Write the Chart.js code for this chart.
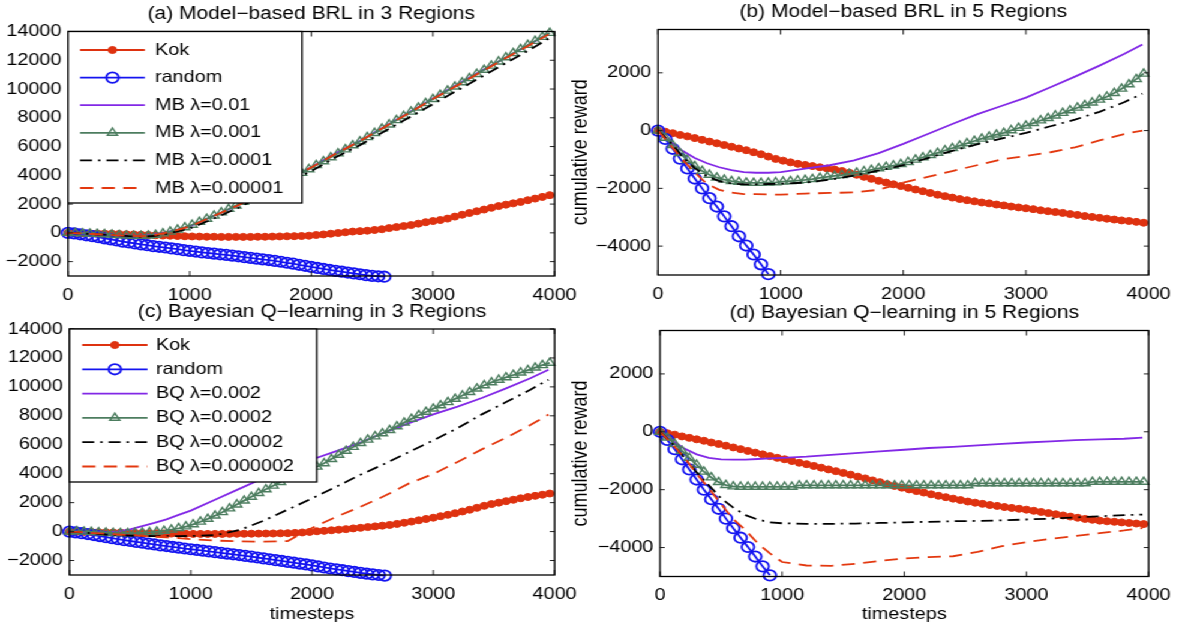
<!DOCTYPE html>
<html>
<head>
<meta charset="utf-8">
<title>Cumulative reward</title>
<script src="https://cdn.jsdelivr.net/npm/chart.js@4.4.0/dist/chart.umd.min.js"></script>
<style>
  html, body { margin: 0; padding: 0; background: #fff; }
  /* the original figure is stretched sideways, so the whole stage is too */
  #stage { position: absolute; left: 0; top: 0; width: 985px; height: 627px;
           transform: scaleX(1.2); transform-origin: 0 0; }
  #stage canvas { position: absolute; }
</style>
</head>
<body>
<div id="stage">
  <canvas id="panelA" width="490" height="312" style="left:0px;top:0px"></canvas>
  <canvas id="panelB" width="515" height="312" style="left:470px;top:0px"></canvas>
  <canvas id="panelC" width="490" height="327" style="left:0px;top:300px"></canvas>
  <canvas id="panelD" width="515" height="327" style="left:470px;top:300px"></canvas>
</div>
<script>
// ---- axis ticks ----
const X_TICKS = [0, 1000, 2000, 3000, 4000];
const Y_TICKS_3R = [-2000, 0, 2000, 4000, 6000, 8000, 10000, 12000, 14000];
const Y_TICKS_5R = [-4000, -2000, 0, 2000];

// ---- timesteps the series were sampled at ----
const T60 = [0, 60, 120, 180, 240, 300, 360, 420, 480, 540,
    600, 660, 720, 780, 840, 900, 960, 1020, 1080, 1140,
    1200, 1260, 1320, 1380, 1440, 1500, 1560, 1620, 1680, 1740,
    1800, 1860, 1920, 1980, 2040, 2100, 2160, 2220, 2280, 2340,
    2400, 2460, 2520, 2580, 2640, 2700, 2760, 2820, 2880, 2940,
    3000, 3060, 3120, 3180, 3240, 3300, 3360, 3420, 3480, 3540,
    3600, 3660, 3720, 3780, 3840, 3900, 3960];
const T50 = [0, 50, 100, 150, 200, 250, 300, 350, 400, 450,
    500, 550, 600, 650, 700, 750, 800, 850, 900, 950,
    1000, 1050, 1100, 1150, 1200, 1250, 1300, 1350, 1400, 1450,
    1500, 1550, 1600, 1650, 1700, 1750, 1800, 1850, 1900, 1950,
    2000, 2050, 2100, 2150, 2200, 2250, 2300, 2350, 2400, 2450,
    2500, 2550, 2600];
const TL = [0, 100, 200, 300, 400, 500, 600, 700, 800, 900, 1000, 1200, 1400,
    1600, 1800, 2000, 2200, 2400, 2600, 2800, 3000, 3200, 3400, 3600, 3800, 3950];

const LABELS_MB = ['Kok', 'random', 'MB λ=0.01', 'MB λ=0.001', 'MB λ=0.0001', 'MB λ=0.00001'];
const LABELS_BQ = ['Kok', 'random', 'BQ λ=0.002', 'BQ λ=0.0002', 'BQ λ=0.00002', 'BQ λ=0.000002'];

// ---- (a) Model-based BRL, 3 regions ----
const aKok = [0, -10, -20, -30, -40, -50, -60, -80, -100, -110,
    -130, -150, -170, -190, -200, -220, -240, -250, -260, -270,
    -270, -280, -280, -280, -280, -280, -270, -270, -260, -250,
    -240, -230, -220, -200, -150, -110, -60, -10, 40, 90,
    120, 150, 200, 250, 330, 400, 470, 540, 640, 740,
    820, 890, 990, 1130, 1260, 1380, 1500, 1620, 1740, 1860,
    1960, 2050, 2150, 2270, 2380, 2500, 2620];
const aRandom = [0, -40, -100, -170, -230, -300, -380, -450, -530, -610,
    -670, -730, -800, -860, -920, -970, -1020, -1080, -1130, -1200,
    -1250, -1300, -1360, -1400, -1440, -1490, -1530, -1580, -1630, -1690,
    -1740, -1790, -1840, -1890, -1950, -2010, -2080, -2140, -2220, -2290,
    -2370, -2440, -2510, -2580, -2640, -2700, -2760, -2820, -2880, -2940,
    -2990, -3020, -3050];
const aMB01 = [0, -30, -70, -100, -150, -190, -200, -130, 40, 230, 450, 1190, 1920,
    2830, 3700, 4560, 5540, 6390, 7380, 8350, 9350, 10320, 11270, 12200, 13130, 13850];
const aMB001 = [0, -20, -40, -60, -80, -100, -130, -160, -190, -210,
    -220, -200, -140, -40, 80, 220, 380, 560, 760, 970,
    1190, 1420, 1660, 1900, 2150, 2400, 2660, 2920, 3180, 3440,
    3690, 3930, 4160, 4420, 4700, 4970, 5250, 5520, 5800, 6080,
    6360, 6650, 6940, 7240, 7530, 7830, 8120, 8420, 8710, 9010,
    9300, 9590, 9880, 10170, 10460, 10750, 11040, 11330, 11620, 11910,
    12200, 12490, 12770, 13060, 13340, 13620, 13900];
const aMB0001 = [0, -40, -90, -130, -180, -230, -260, -220, -80, 100, 300, 1000, 1750,
    2600, 3450, 4300, 5250, 6100, 7050, 8000, 8950, 9900, 10850, 11800, 12750, 13500];
const aMB00001 = [0, -30, -80, -120, -170, -210, -230, -180, 0, 200, 430, 1180, 1920,
    2800, 3680, 4550, 5500, 6380, 7350, 8320, 9300, 10250, 11200, 12150, 13080, 13800];

// ---- (b) Model-based BRL, 5 regions ----
const bKok = [0, -40, -90, -150, -200, -260, -320, -380, -440, -500,
    -560, -620, -680, -750, -820, -900, -980, -1040, -1100, -1150,
    -1190, -1230, -1270, -1310, -1350, -1400, -1460, -1530, -1600, -1670,
    -1740, -1800, -1860, -1920, -1980, -2040, -2100, -2160, -2220, -2270,
    -2320, -2370, -2410, -2450, -2490, -2520, -2560, -2590, -2630, -2660,
    -2690, -2720, -2760, -2790, -2820, -2850, -2890, -2920, -2960, -2990,
    -3020, -3050, -3080, -3110, -3130, -3160, -3190];
const bRandom = [0, -290, -630, -970, -1310, -1660, -2000, -2340, -2630, -2970,
    -3310, -3660, -3980, -4290, -4630, -4970];
const bMB01 = [0, -380, -700, -950, -1130, -1270, -1370, -1440, -1460, -1460, -1440, -1320, -1200,
    -1030, -780, -460, -120, 230, 560, 850, 1140, 1500, 1870, 2250, 2650, 2980];
const bMB001 = [0, -250, -500, -780, -1020, -1230, -1400, -1530, -1630, -1700,
    -1750, -1780, -1800, -1810, -1810, -1800, -1790, -1770, -1750, -1730,
    -1710, -1680, -1640, -1600, -1570, -1540, -1500, -1460, -1410, -1360,
    -1310, -1260, -1210, -1160, -1090, -1010, -930, -850, -770, -690,
    -610, -520, -440, -360, -280, -210, -140, -80, 10, 90,
    170, 260, 350, 430, 520, 610, 700, 790, 880, 970,
    1070, 1170, 1300, 1450, 1600, 1780, 1970];
const bMB0001 = [0, -400, -900, -1300, -1580, -1750, -1830, -1860, -1860, -1850, -1840, -1800, -1700,
    -1560, -1380, -1200, -950, -700, -480, -280, -80, 150, 380, 650, 980, 1280];
const bMB00001 = [0, -500, -1000, -1450, -1850, -2050, -2150, -2200, -2200, -2210, -2220, -2180, -2160,
    -2140, -2050, -1800, -1600, -1400, -1200, -1000, -880, -750, -580, -340, -120, 0];

// ---- (c) Bayesian Q-learning, 3 regions ----
const cKok = [0, -10, -20, -30, -40, -50, -60, -70, -80, -90,
    -100, -110, -120, -130, -140, -150, -155, -160, -160, -160,
    -160, -160, -155, -150, -150, -145, -140, -135, -130, -120,
    -110, -90, -60, -20, 20, 50, 90, 130, 170, 220,
    260, 310, 360, 410, 460, 530, 610, 690, 780, 870,
    960, 1060, 1160, 1270, 1390, 1510, 1640, 1780, 1900, 2000,
    2100, 2200, 2300, 2390, 2470, 2550, 2630];
const cRandom = [0, -50, -110, -170, -240, -310, -380, -450, -520, -590,
    -650, -710, -770, -830, -890, -950, -1000, -1060, -1110, -1170,
    -1220, -1270, -1320, -1370, -1420, -1470, -1520, -1570, -1620, -1680,
    -1730, -1790, -1850, -1910, -1970, -2030, -2090, -2150, -2210, -2270,
    -2340, -2410, -2480, -2550, -2610, -2670, -2730, -2790, -2850, -2910,
    -2960, -3000, -3040];
const cBQ002 = [0, -30, -60, -60, 20, 160, 380, 600, 850, 1150, 1450, 2200, 2950,
    3700, 4370, 4980, 5560, 6150, 6860, 7500, 8100, 8640, 9230, 9900, 10600, 11180];
const cBQ0002 = [0, 20, 0, -30, -60, -80, -100, -110, -110, -100,
    -80, -50, -10, 50, 130, 230, 350, 500, 680, 880,
    1100, 1340, 1600, 1870, 2140, 2400, 2660, 2920, 3170, 3420,
    3660, 3880, 4080, 4270, 4480, 4720, 5010, 5300, 5580, 5850,
    6110, 6350, 6570, 6790, 7010, 7270, 7530, 7790, 8040, 8270,
    8500, 8720, 8940, 9170, 9400, 9640, 9880, 10110, 10310, 10490,
    10660, 10820, 10990, 11160, 11330, 11500, 11660];
const cBQ00002 = [0, -60, -130, -200, -250, -280, -300, -310, -310, -310, -300, -250, 100,
    750, 1520, 2290, 3100, 3930, 4690, 5500, 6300, 7150, 8100, 8950, 9800, 10500];
const cBQ000002 = [0, -40, -100, -150, -200, -250, -300, -350, -400, -450, -520, -620, -680,
    -700, -650, 250, 1020, 1710, 2470, 3330, 3980, 4810, 5680, 6490, 7360, 8090];

// ---- (d) Bayesian Q-learning, 5 regions ----
const dKok = [0, -50, -100, -160, -210, -260, -310, -370, -420, -480,
    -540, -600, -660, -720, -780, -840, -900, -950, -1010, -1070,
    -1120, -1180, -1240, -1300, -1360, -1420, -1480, -1550, -1610, -1680,
    -1740, -1810, -1870, -1930, -1990, -2050, -2100, -2160, -2210, -2260,
    -2310, -2360, -2410, -2450, -2490, -2530, -2560, -2600, -2630, -2660,
    -2690, -2730, -2770, -2810, -2850, -2890, -2930, -2970, -3010, -3040,
    -3070, -3090, -3110, -3130, -3150, -3170, -3190];
const dRandom = [0, -280, -600, -950, -1300, -1650, -2000, -2330, -2660, -3000,
    -3330, -3660, -3980, -4310, -4650, -4960];
const dBQ002 = [0, -300, -580, -780, -900, -950, -960, -960, -940, -920, -900, -860, -800,
    -740, -680, -620, -560, -520, -470, -420, -370, -330, -290, -260, -240, -200];
const dBQ0002 = [0, -200, -420, -660, -900, -1140, -1380, -1580, -1740, -1840,
    -1890, -1900, -1900, -1900, -1900, -1900, -1900, -1900, -1900, -1850,
    -1850, -1850, -1850, -1850, -1850, -1850, -1850, -1850, -1850, -1850,
    -1850, -1850, -1850, -1850, -1850, -1850, -1850, -1850, -1850, -1850,
    -1850, -1850, -1850, -1780, -1780, -1780, -1780, -1780, -1780, -1780,
    -1780, -1780, -1780, -1780, -1780, -1780, -1780, -1780, -1780, -1730,
    -1730, -1730, -1730, -1730, -1730, -1730, -1730];
const dBQ00002 = [0, -400, -900, -1400, -1850, -2300, -2620, -2880, -3030, -3130, -3160, -3180, -3180,
    -3170, -3150, -3130, -3110, -3090, -3080, -3060, -3030, -3000, -2960, -2920, -2880, -2860];
const dBQ000002 = [0, -420, -900, -1450, -1950, -2500, -3020, -3400, -3850, -4200, -4500, -4620, -4630,
    -4560, -4460, -4380, -4330, -4300, -4150, -3950, -3810, -3700, -3600, -3500, -3410, -3330];

// ---- look of each series (same order in every panel) ----
const SERIES_STYLES = [
    { borderColor: '#de3210', borderWidth: 1.8, pointStyle: 'circle', pointRadius: 3.5,
      pointBackgroundColor: '#de3210', pointBorderColor: '#de3210', pointBorderWidth: 1, clip: 8 },
    { borderColor: '#1414f0', borderWidth: 1.8, pointStyle: 'circle', pointRadius: 5.2,
      pointBackgroundColor: 'rgba(0,0,0,0)', pointBorderColor: '#1414f0', pointBorderWidth: 1.8, clip: 8 },
    { borderColor: '#8228e6', borderWidth: 1.8, pointRadius: 0 },
    { borderColor: '#4c7d5f', borderWidth: 1.8, pointStyle: 'triangle', pointRadius: 4.8,
      pointBackgroundColor: 'rgba(0,0,0,0)', pointBorderColor: '#4c7d5f', pointBorderWidth: 1.4, clip: 8 },
    { borderColor: '#000000', borderWidth: 1.8, borderDash: [10, 5, 2, 5], pointRadius: 0 },
    { borderColor: '#e3380f', borderWidth: 1.8, borderDash: [11, 7], pointRadius: 0 }
];

const FONT = '"Liberation Sans", Arial, Helvetica, sans-serif';
Chart.defaults.font.family = FONT;
Chart.defaults.font.size = 16.5;
Chart.defaults.color = '#000';

// Draw a MATLAB-style legend box in the top-left corner of the axes
function drawLegend(chart, lg) {
    const { ctx, chartArea: area } = chart;
    ctx.save();
    ctx.setLineDash([]);
    ctx.fillStyle = '#fff';
    ctx.fillRect(area.left, area.top, lg.w, lg.h);
    ctx.strokeStyle = '#000';
    ctx.lineWidth = 1.3;
    ctx.strokeRect(area.left, area.top, lg.w, lg.h);

    chart.data.datasets.forEach((ds, i) => {
        const yy = area.top + lg.first + i * lg.step;
        ctx.strokeStyle = ds.borderColor;
        ctx.lineWidth = ds.borderWidth;
        ctx.setLineDash(ds.borderDash || []);
        ctx.beginPath();
        ctx.moveTo(area.left + lg.x0, yy);
        ctx.lineTo(area.left + lg.x1, yy);
        ctx.stroke();
        ctx.setLineDash([]);
        if (ds.pointRadius > 0) {
            ctx.fillStyle = ds.pointBackgroundColor;
            ctx.strokeStyle = ds.pointBorderColor;
            ctx.lineWidth = ds.pointBorderWidth;
            Chart.helpers.drawPoint(ctx, {
                pointStyle: ds.pointStyle, radius: ds.pointRadius,
                borderWidth: ds.pointBorderWidth, rotation: 0
            }, area.left + (lg.x0 + lg.x1) / 2, yy);
        }
        ctx.fillStyle = '#000';
        ctx.font = '16.5px ' + FONT;
        ctx.textAlign = 'left';
        ctx.textBaseline = 'middle';
        ctx.fillText(ds.label, area.left + lg.tx, yy);
    });
    ctx.restore();
}

// Box round the axes, inward ticks on all four sides, title and legend
const matlabFrame = {
    id: 'matlabFrame',
    afterDatasetsDraw(chart, args, opts) {
        const { ctx, chartArea: area } = chart;
        const xs = chart.scales.x;
        const ys = chart.scales.y;
        ctx.save();
        ctx.setLineDash([]);
        ctx.strokeStyle = '#222';
        ctx.lineWidth = 1;
        ctx.beginPath();
        xs.ticks.forEach(t => {
            const px = xs.getPixelForValue(t.value);
            ctx.moveTo(px, area.bottom); ctx.lineTo(px, area.bottom - 5);
            ctx.moveTo(px, area.top); ctx.lineTo(px, area.top + 5);
        });
        ys.ticks.forEach(t => {
            const py = ys.getPixelForValue(t.value);
            ctx.moveTo(area.left, py); ctx.lineTo(area.left + 4, py);
            ctx.moveTo(area.right, py); ctx.lineTo(area.right - 4, py);
        });
        ctx.stroke();
        ctx.strokeStyle = '#000';
        ctx.lineWidth = 1.3;
        ctx.strokeRect(area.left, area.top, area.right - area.left, area.bottom - area.top);
        ctx.restore();

        if (opts.legend) drawLegend(chart, opts.legend);

        ctx.save();
        ctx.fillStyle = '#000';
        ctx.font = '17.5px ' + FONT;
        ctx.textAlign = 'center';
        ctx.textBaseline = 'middle';
        ctx.fillText(opts.title, (area.left + area.right) / 2, area.top - 17);
        ctx.restore();
    }
};

const fmtTick = v => (v < 0 ? '\u2212' + Math.abs(v) : String(v));

const PANELS = [
    { id: 'panelA', title: '(a) Model\u2212based BRL in 3 Regions', labels: LABELS_MB,
      series: [[T60, aKok], [T50, aRandom], [TL, aMB01], [T60, aMB001], [TL, aMB0001], [TL, aMB00001]],
      yMin: -3000, yMax: 14000, yTicks: Y_TICKS_3R,
      yAxisW: 56.7, padRight: 20.8, padTop: 31.5, xAxisH: 36, xTitle: false, yTitle: false,
      legend: { w: 195, h: 171.5, first: 18.5, step: 27.6, x0: 10, x1: 64, tx: 72.5 } },
    { id: 'panelB', title: '(b) Model\u2212based BRL in 5 Regions', labels: LABELS_MB,
      series: [[T60, bKok], [T60, bRandom], [TL, bMB01], [T60, bMB001], [TL, bMB0001], [TL, bMB00001]],
      yMin: -5000, yMax: 3500, yTicks: Y_TICKS_5R,
      yAxisW: 78.3, padRight: 24.2, padTop: 29.5, xAxisH: 37, xTitle: false, yTitle: true,
      legend: null },
    { id: 'panelC', title: '(c) Bayesian Q\u2212learning in 3 Regions', labels: LABELS_BQ,
      series: [[T60, cKok], [T50, cRandom], [TL, cBQ002], [T60, cBQ0002], [TL, cBQ00002], [TL, cBQ000002]],
      yMin: -3000, yMax: 14000, yTicks: Y_TICKS_3R,
      yAxisW: 57.9, padRight: 20, padTop: 29, xAxisH: 52, xTitle: true, yTitle: false,
      legend: { w: 206, h: 153, first: 16, step: 24.3, x0: 10.6, x1: 65, tx: 72 } },
    { id: 'panelD', title: '(d) Bayesian Q\u2212learning in 5 Regions', labels: LABELS_BQ,
      series: [[T60, dKok], [T60, dRandom], [TL, dBQ002], [T60, dBQ0002], [TL, dBQ00002], [TL, dBQ000002]],
      yMin: -5000, yMax: 3500, yTicks: Y_TICKS_5R,
      yAxisW: 80, padRight: 24.2, padTop: 30.5, xAxisH: 50.5, xTitle: true, yTitle: true,
      legend: null }
];

function buildPanel(p) {
    const n = p.series.length;
    const datasets = p.series.map(([xs, ys], i) => Object.assign({
        label: p.labels[i],
        data: ys.map((y, k) => ({ x: xs[k], y: y })),
        order: n - i, // later series on top, as in the original
        tension: 0,
        fill: false
    }, SERIES_STYLES[i]));

    return new Chart(document.getElementById(p.id), {
        type: 'line',
        data: { datasets },
        options: {
            responsive: false,
            animation: false,
            devicePixelRatio: 1,
            events: [],
            layout: { padding: { left: 0, right: p.padRight, top: p.padTop, bottom: 0 } },
            plugins: {
                legend: { display: false },
                tooltip: { enabled: false },
                matlabFrame: { title: p.title, legend: p.legend }
            },
            scales: {
                x: {
                    type: 'linear', min: 0, max: 4000,
                    afterBuildTicks: s => { s.ticks = X_TICKS.map(v => ({ value: v })); },
                    afterFit: s => { s.height = p.xAxisH; },
                    grid: { display: false, drawTicks: false },
                    border: { display: false },
                    ticks: { padding: 9.5, autoSkip: false, maxRotation: 0, callback: fmtTick },
                    title: { display: p.xTitle, text: 'timesteps', font: { size: 16.5 },
                             padding: { top: 0, bottom: 2.2 } }
                },
                y: {
                    type: 'linear', min: p.yMin, max: p.yMax,
                    afterBuildTicks: s => { s.ticks = p.yTicks.map(v => ({ value: v })); },
                    afterFit: s => { s.width = p.yAxisW; },
                    grid: { display: false, drawTicks: false },
                    border: { display: false },
                    ticks: { padding: 5.5, autoSkip: false, callback: fmtTick },
                    title: { display: p.yTitle, text: 'cumulative reward', font: { size: 18 },
                             padding: { top: 3.2, bottom: 0 } }
                }
            }
        },
        plugins: [matlabFrame]
    });
}

PANELS.forEach(buildPanel);
</script>
</body>
</html>
